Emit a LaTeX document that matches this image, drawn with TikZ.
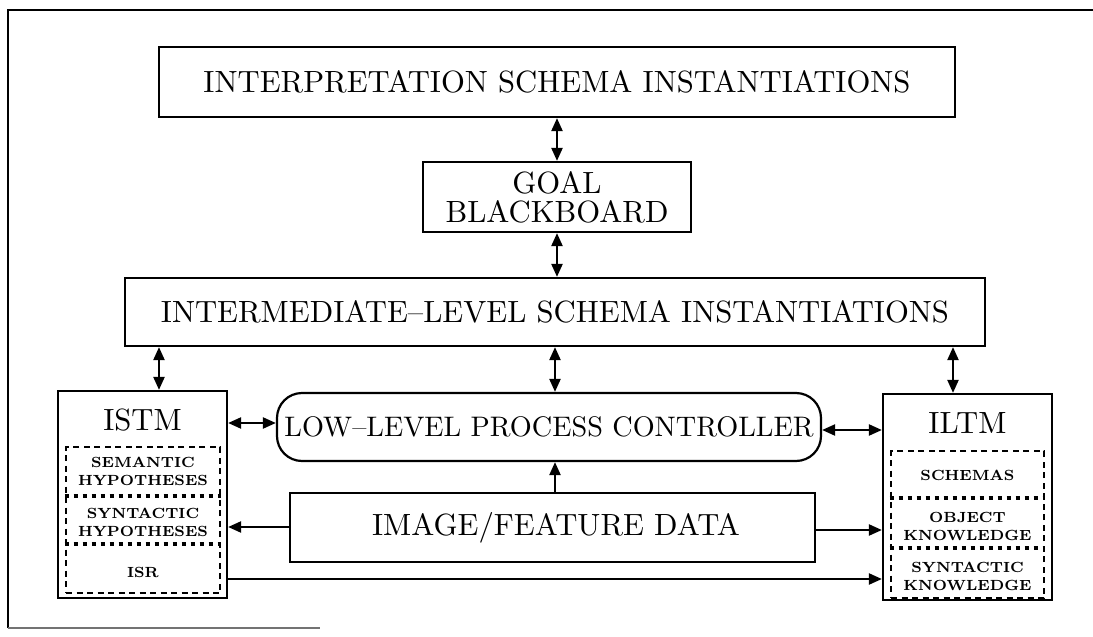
\documentclass[tikz,border=0pt]{standalone}
\usepackage{graphicx}
\usetikzlibrary{arrows.meta,calc}
\tikzset{
  box/.style={draw, line width=2.2pt, inner sep=0pt},
  bigt/.style={scale=3.07, inner sep=0pt, align=center, font=\fontsize{10}{9.45}\selectfont},
  smallt/.style={scale=2.1, inner sep=0pt, align=center, font=\fontsize{7}{8.57}\selectfont\bfseries},
  inbox/.style={draw, line width=2.6pt, dash pattern=on 6pt off 4.5pt, inner sep=0pt},
  divider/.style={line width=4.5pt, dash pattern=on 4.5pt off 4.5pt},
  arr/.style={line width=2.2pt, ->},
  dbl/.style={line width=2.2pt, <->},
  frameline/.style={line width=2pt}
}
\begin{document}
\begin{tikzpicture}[x=1pt, y=-1pt, >={Triangle[length=13pt,width=11pt]}]
\useasboundingbox (0,0) rectangle (1093,637);
% outer frame
\draw[frameline] (8,628) -- (8,10) -- (1093,10);
\draw[line width=1.5pt, black!55] (8,628) -- (320,628);

% main boxes
\node[box, minimum width=796pt, minimum height=70pt] (top) at (557,82) {};
\node[bigt] (topT) at (top.center) {INTERPRETATION SCHEMA INSTANTIATIONS};

\node[box, minimum width=268pt, minimum height=70pt] (goal) at (557,197) {};
\node[bigt] (goalT) at (goal.center) {GOAL\\BLACKBOARD};

\node[box, minimum width=860pt, minimum height=68pt] (inter) at (555,312) {};
\node[bigt] (interT) at (inter.center) {INTERMEDIATE--LEVEL SCHEMA INSTANTIATIONS};

\node[box, rounded corners=25pt, minimum width=544pt, minimum height=68pt] (llpc) at (549,427) {};
\node[bigt, scale=0.92] (llpcT) at (llpc.center) {LOW--LEVEL PROCESS CONTROLLER};

\node[box, minimum width=525pt, minimum height=69pt] (img) at (552.5,527.5) {};
\node[bigt] (imgT) at (556,527.5) {IMAGE/FEATURE DATA};

% ISTM
\node[box, minimum width=169pt, minimum height=207pt] (istm) at (142.5,494.5) {};
\node[bigt, anchor=base] (istmT) at (142.5,430) {ISTM};
\node[inbox, minimum width=154pt, minimum height=146pt] (istmIn) at (143,520) {};
\coordinate (d1) at (0,496);
\coordinate (d2) at (0,544);
\draw[divider] (istmIn.west |- d1) -- (istmIn.east |- d1);
\draw[divider] (istmIn.west |- d2) -- (istmIn.east |- d2);
\node[smallt] (sem) at (143,471) {SEMANTIC\\HYPOTHESES};
\node[smallt] (syn) at (143,522.5) {SYNTACTIC\\HYPOTHESES};
\node[smallt] (isr) at (143,572) {ISR};

% ILTM
\node[box, minimum width=169pt, minimum height=206pt] (iltm) at (967.5,497) {};
\node[bigt, anchor=base] (iltmT) at (967.5,433) {ILTM};
\node[inbox, minimum width=153pt, minimum height=147pt] (iltmIn) at (967.5,524.5) {};
\coordinate (d3) at (0,498);
\coordinate (d4) at (0,548);
\draw[divider] (iltmIn.west |- d3) -- (iltmIn.east |- d3);
\draw[divider] (iltmIn.west |- d4) -- (iltmIn.east |- d4);
\node[smallt] (sch) at (967.5,475) {SCHEMAS};
\node[smallt] (obj) at (967.5,526) {OBJECT\\KNOWLEDGE};
\node[smallt] (synk) at (967.5,576) {SYNTACTIC\\KNOWLEDGE};

% connectors
\draw[dbl] (top.south) -- (goal.north);
\draw[dbl] (goal.south) -- (goal.south |- inter.north);
\coordinate (a1) at ([xshift=16.5pt]istm.north);
\draw[dbl] (a1 |- inter.south) -- (a1);
\draw[dbl] (inter.south) -- (inter.south |- llpc.north);
\coordinate (a3) at ([xshift=-14.5pt]iltm.north);
\draw[dbl] (a3 |- inter.south) -- (a3);
\draw[arr] (img.north -| inter.south) -- (llpc.south -| inter.south);
\coordinate (h1) at (0,423);
\draw[dbl] (istm.east |- h1) -- (llpc.west |- h1);
\coordinate (h2) at (0,430);
\draw[dbl] (llpc.east |- h2) -- (iltm.west |- h2);
\coordinate (h3) at (0,527);
\draw[arr] (img.west |- h3) -- (istm.east |- h3);
\coordinate (h4) at (0,530);
\draw[arr] (img.east |- h4) -- (iltm.west |- h4);
\coordinate (h5) at (0,579);
\draw[arr] (istm.east |- h5) -- (iltm.west |- h5);
\end{tikzpicture}
\end{document}
